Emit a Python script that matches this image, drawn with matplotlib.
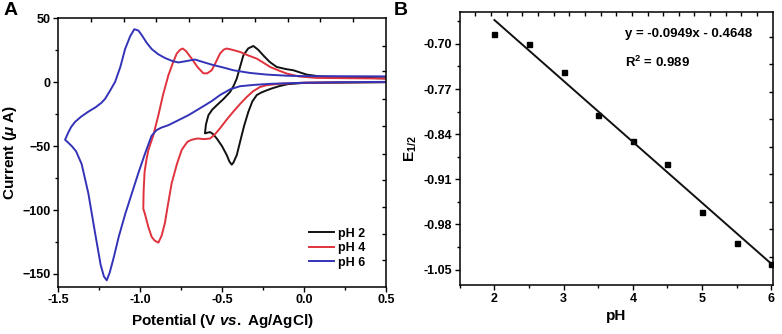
import numpy as np
import matplotlib.pyplot as plt
from matplotlib.ticker import MultipleLocator, FormatStrFormatter

plt.rcParams['font.family'] = ['Liberation Sans', 'DejaVu Sans']
plt.rcParams['font.weight'] = 'bold'
plt.rcParams['mathtext.fontset'] = 'custom'
plt.rcParams['mathtext.rm'] = 'Liberation Sans:bold'
plt.rcParams['mathtext.it'] = 'Liberation Sans:italic:bold'
plt.rcParams['mathtext.bf'] = 'Liberation Sans:bold'

# ---- panel A: cyclic voltammograms (potential V, current uA)
ph2_v = [0.5, 0.0, -0.1, -0.15, -0.2, -0.227, -0.26, -0.288, -0.315, -0.339, -0.365, -0.39, -0.41,
         -0.431, -0.441, -0.455, -0.471, -0.50, -0.532, -0.555, -0.573, -0.59, -0.604,
         -0.598, -0.583, -0.56, -0.532, -0.49, -0.451, -0.43, -0.41, -0.39, -0.37, -0.34, -0.309,
         -0.28, -0.248, -0.21, -0.167, -0.11, -0.065, 0.016, 0.1, 0.5]
ph2_i = [0.0, -0.5, -1.5, -3, -5, -6.3, -8, -10, -15, -23, -34, -46.7, -57,
         -63, -64.5, -62, -57, -50, -44, -40.5, -39, -39.5, -40,
         -33, -25.8, -21.5, -18, -13, -7.6, -3, 2.9, 12, 21, 26.5, 28.4,
         25.5, 21, 16, 12, 10.3, 9.4, 6, 4.5, 3.0]

ph4_v = [0.5, 0.0, -0.15, -0.227, -0.268, -0.31, -0.349, -0.39, -0.431, -0.47, -0.512, -0.545,
         -0.573, -0.61, -0.65, -0.685, -0.71, -0.73, -0.746, -0.775, -0.807, -0.83, -0.848,
         -0.868, -0.888, -0.91, -0.929, -0.95, -0.97, -0.98,
         -0.978, -0.972, -0.96, -0.949, -0.92, -0.888, -0.86, -0.827, -0.80, -0.776, -0.755,
         -0.740, -0.72, -0.685, -0.65, -0.614, -0.59, -0.563, -0.54, -0.512, -0.49, -0.472,
         -0.44, -0.39, -0.34, -0.288, -0.25, -0.207, -0.15, -0.105, -0.03, 0.077, 0.5]
ph4_i = [0.2, -0.3, -1.2, -2.3, -3.7, -7, -11.5, -17, -23, -29, -36, -41,
         -44, -44.5, -44, -45, -46.5, -50, -53, -64, -79, -96, -110,
         -120, -125.5, -124, -121, -113, -103, -99,
         -85, -70, -60, -53, -42, -25.8, -10, 5.5, 15, 22.5, 25.5,
         26.4, 24.5, 18.5, 12, 7, 7, 9.4, 15, 22.5, 25.5, 26.4,
         25.5, 23.7, 21, 18.5, 15.5, 12, 9, 6.8, 4.5, 3.4, 2.9]

ph6_v = [0.5, 0.2, 0.0, -0.2, -0.3, -0.39, -0.45, -0.512, -0.56, -0.604, -0.705, -0.827, -0.87,
         -0.90, -0.93, -0.97, -1.01, -1.05, -1.09, -1.13, -1.16, -1.185, -1.203, -1.22, -1.24,
         -1.274, -1.315, -1.356, -1.39, -1.416, -1.44, -1.457,
         -1.44, -1.42, -1.396, -1.36, -1.315, -1.27, -1.235, -1.213, -1.18, -1.152, -1.12,
         -1.091, -1.06, -1.035, -1.01, -0.99, -0.96, -0.929, -0.89, -0.848, -0.80, -0.766,
         -0.72, -0.665, -0.62, -0.563, -0.482, -0.431, -0.33, -0.227, -0.1, 0.0, 0.5]
ph6_i = [0.3, 0.0, -0.4, -1.2, -2.0, -3.1, -5.5, -10, -14.5, -18, -25.8, -33.6, -35.5,
         -37.5, -42, -56, -71, -87, -103, -121, -137, -149, -155, -152, -143,
         -118, -87, -64, -54, -50, -47, -45,
         -40, -35, -31, -27, -23, -19.5, -16, -13, -6, 0.3, 12,
         26, 36, 41.5, 40.5, 37, 31, 26, 22, 19, 16.5, 15.5,
         16.5, 17.8, 16, 13.8, 11.2, 9.4, 7.3, 6.0, 5.1, 4.8, 4.6]

# ---- panel B: half-wave potential vs pH
ph = [2, 2.5, 3, 3.5, 4, 4.5, 5, 5.5, 6]
e_half = [-0.685, -0.700, -0.744, -0.811, -0.851, -0.887, -0.960, -1.009, -1.041]
fit_ph = [2, 6]
fit_e = [-0.663, -1.041]

fig = plt.figure(figsize=(7.82, 3.34), dpi=100)
ax1 = fig.add_axes([0.0742, 0.1416, 0.4194, 0.8034])
ax2 = fig.add_axes([0.588, 0.1467, 0.4009, 0.8165])

ax1.plot(ph2_v, ph2_i, color='#111111', lw=1.4, label='pH 2')
ax1.plot(ph4_v, ph4_i, color='#e0323c', lw=1.4, label='pH 4')
ax1.plot(ph6_v, ph6_i, color='#3333b8', lw=1.4, label='pH 6')
ax1.set_xlim(-1.5, 0.5)
ax1.set_ylim(-160, 50)
ax1.xaxis.set_major_locator(MultipleLocator(0.5))
ax1.xaxis.set_minor_locator(MultipleLocator(0.25))
ax1.yaxis.set_major_locator(MultipleLocator(50))
ax1.yaxis.set_minor_locator(MultipleLocator(25))
ax1.xaxis.set_major_formatter(FormatStrFormatter('%.1f'))
ax1.set_xlabel('Potential (V $\\mathit{vs.}$ Ag/AgCl)', fontsize=11, fontweight='bold', labelpad=4)
ax1.set_ylabel('Current ($\\mu$ A)', fontsize=11, fontweight='bold', labelpad=2)
ax1.legend(loc='lower right', frameon=False, fontsize=9, handlelength=2.0,
           handletextpad=0.3, labelspacing=0.2, borderaxespad=0.5,
           bbox_to_anchor=(0.97, 0.025))
top1 = ax1.secondary_xaxis('top')
top1.set_xticks(np.arange(-1.3, 0.4, 0.2))
top1.tick_params(direction='in', length=3, width=1, labeltop=False)
right1 = ax1.secondary_yaxis('right')
right1.set_yticks([28.7, 8.6, -12.8, -34.4, -55.8, -76.7, -97.5, -118.4, -139])
right1.tick_params(direction='in', length=3, width=1, labelright=False)

ax2.plot(ph, e_half, 's', color='black', ms=3.6)
ax2.plot(fit_ph, fit_e, '-', color='#111111', lw=1.4)
ax2.set_xlim(1.5, 6.03)
ax2.set_ylim(-1.074, -0.651)
ax2.xaxis.set_major_locator(MultipleLocator(1))
ax2.xaxis.set_minor_locator(MultipleLocator(0.5))
ax2.set_yticks([-0.70, -0.77, -0.84, -0.91, -0.98, -1.05])
ax2.yaxis.set_minor_locator(MultipleLocator(0.035))
ax2.yaxis.set_major_formatter(FormatStrFormatter('%.2f'))
ax2.set_xlabel('pH', fontsize=11, fontweight='bold', labelpad=3)
ax2.set_ylabel('E$_{1/2}$', fontsize=11, fontweight='bold', labelpad=3)
ax2.text(0.527, 0.92, 'y = -0.0949x - 0.4648', transform=ax2.transAxes, fontsize=9.5,
         fontweight='bold', va='center')
ax2.text(0.527, 0.815, 'R$^2$ = 0.989', transform=ax2.transAxes, fontsize=9.5,
         fontweight='bold', va='center')
top2 = ax2.secondary_xaxis('top')
top2.set_xticks(np.arange(1.726, 5.9, 0.226))
top2.tick_params(direction='in', length=3, width=1, labeltop=False)
right2 = ax2.secondary_yaxis('right')
right2.set_yticks(np.arange(-0.6887, -1.06, -0.0427))
right2.tick_params(direction='in', length=3, width=1, labelright=False)

for ax in (ax1, ax2):
    for sp in ax.spines.values():
        sp.set_linewidth(1.1)
    ax.tick_params(which='major', direction='out', length=3.5, width=1, labelsize=9, pad=2)
    ax.tick_params(which='minor', direction='out', length=2, width=1)
    for lab in ax.get_xticklabels() + ax.get_yticklabels():
        lab.set_fontweight('bold')
for sec in (top1, right1, top2, right2):
    sec.spines[:].set_visible(False)

fig.text(0.004, 0.995, 'A', fontsize=14, fontweight='bold', va='top')
fig.text(0.503, 0.995, 'B', fontsize=14, fontweight='bold', va='top')

plt.savefig('out.png', dpi=100)
